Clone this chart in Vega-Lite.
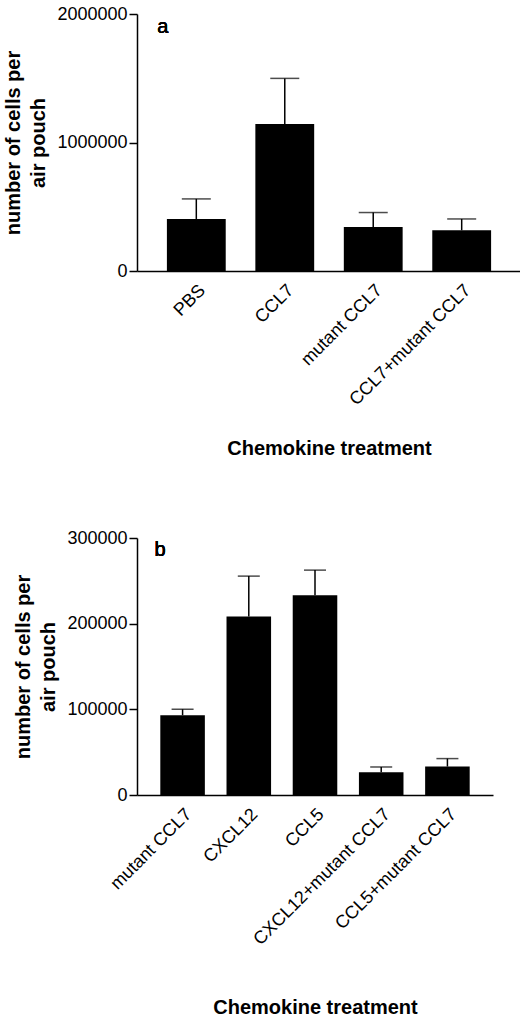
{
  "$schema": "https://vega.github.io/schema/vega-lite/v6.json",
  "padding": {"left": 3, "top": 5, "right": 0, "bottom": 0},
  "spacing": 70,
  "config": {
    "view": {"stroke": null},
    "font": "Liberation Sans",
    "axis": {
      "grid": false,
      "domainColor": "black",
      "domainWidth": 1.5,
      "tickColor": "black",
      "tickWidth": 1.5,
      "labelColor": "black",
      "titleColor": "black",
      "labelFont": "Liberation Sans",
      "titleFont": "Liberation Sans",
      "labelFontSize": 18,
      "labelLimit": 400,
      "titleFontSize": 20,
      "titleFontWeight": "bold"
    }
  },
  "vconcat": [
    {
      "width": 384,
      "height": 257,
      "data": {
        "values": [
          {"treatment": "PBS", "mean": 405000, "upper": 561000},
          {"treatment": "CCL7", "mean": 1143000, "upper": 1499000},
          {"treatment": "mutant CCL7", "mean": 343000, "upper": 455000},
          {"treatment": "CCL7+mutant CCL7", "mean": 317000, "upper": 405000}
        ]
      },
      "encoding": {
        "x": {
          "field": "treatment",
          "type": "nominal",
          "sort": null,
          "scale": {"paddingInner": 0.335, "paddingOuter": 0.338},
          "axis": {
            "title": "Chemokine treatment",
            "labelAngle": -45,
            "ticks": false,
            "labelPadding": 10,
            "titlePadding": 30
          }
        }
      },
      "layer": [
        {
          "mark": {"type": "bar", "color": "black"},
          "encoding": {
            "y": {
              "field": "mean",
              "type": "quantitative",
              "scale": {"domain": [0, 2000000], "nice": false},
              "axis": {
                "values": [0, 1000000, 2000000],
                "format": "d",
                "tickSize": 8,
                "title": ["number of cells per", "air pouch"],
                "titleLineHeight": 25,
                "titlePadding": 8
              }
            }
          }
        },
        {
          "mark": {"type": "rule", "color": "black", "strokeWidth": 1.5},
          "encoding": {
            "y": {"field": "mean", "type": "quantitative"},
            "y2": {"field": "upper"}
          }
        },
        {
          "mark": {"type": "tick", "color": "black", "thickness": 1.5, "size": 29},
          "encoding": {"y": {"field": "upper", "type": "quantitative"}}
        },
        {
          "mark": {"type": "text", "text": "a", "fontSize": 20, "fontWeight": "normal", "align": "left", "dx": -39, "color": "black"},
          "encoding": {"x": {"datum": "PBS"}, "y": {"datum": 1900000}}
        }
      ]
    },
    {
      "width": 356,
      "height": 257,
      "data": {
        "values": [
          {"treatment": "mutant CCL7", "mean": 93100, "upper": 100100},
          {"treatment": "CXCL12", "mean": 208400, "upper": 255500},
          {"treatment": "CCL5", "mean": 233300, "upper": 262500},
          {"treatment": "CXCL12+mutant CCL7", "mean": 26500, "upper": 32700},
          {"treatment": "CCL5+mutant CCL7", "mean": 33200, "upper": 42500}
        ]
      },
      "encoding": {
        "x": {
          "field": "treatment",
          "type": "nominal",
          "sort": null,
          "scale": {"paddingInner": 0.327, "paddingOuter": 0.352},
          "axis": {
            "title": "Chemokine treatment",
            "labelAngle": -45,
            "ticks": false,
            "labelPadding": 10,
            "titlePadding": 49
          }
        }
      },
      "layer": [
        {
          "mark": {"type": "bar", "color": "black"},
          "encoding": {
            "y": {
              "field": "mean",
              "type": "quantitative",
              "scale": {"domain": [0, 300000], "nice": false},
              "axis": {
                "values": [0, 100000, 200000, 300000],
                "format": "d",
                "tickSize": 8,
                "title": ["number of cells per", "air pouch"],
                "titleLineHeight": 25,
                "titlePadding": 8
              }
            }
          }
        },
        {
          "mark": {"type": "rule", "color": "black", "strokeWidth": 1.5},
          "encoding": {
            "y": {"field": "mean", "type": "quantitative"},
            "y2": {"field": "upper"}
          }
        },
        {
          "mark": {"type": "tick", "color": "black", "thickness": 1.5, "size": 22},
          "encoding": {"y": {"field": "upper", "type": "quantitative"}}
        },
        {
          "mark": {"type": "text", "text": "b", "fontSize": 20, "fontWeight": "normal", "align": "left", "dx": -28, "color": "black"},
          "encoding": {"x": {"datum": "mutant CCL7"}, "y": {"datum": 286000}}
        }
      ]
    }
  ]
}
